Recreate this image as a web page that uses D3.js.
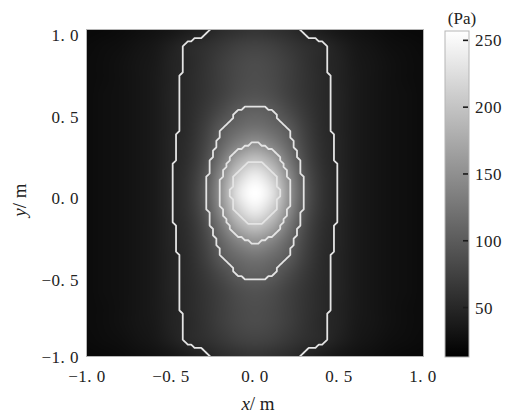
<!DOCTYPE html>
<html>
<head>
<meta charset="utf-8">
<script src="https://cdn.jsdelivr.net/npm/d3@7"></script>
<style>
  html, body { margin: 0; padding: 0; background: #fff; }
  svg { display: block; }
  text { font-family: 'Liberation Serif', 'Times New Roman', serif; fill: #222; }
</style>
</head>
<body>
<svg id="chart" width="518" height="416"></svg>
<script>
// Sample grid positions (m)
const gridX = [-1.0,-0.9,-0.8,-0.7,-0.6,-0.5,-0.4,-0.3,-0.2,-0.1,0.0,0.1,0.2,0.3,0.4,0.5,0.6,0.7,0.8,0.9,1.0];
const gridY = [1.0,0.9,0.8,0.7,0.6,0.5,0.4,0.3,0.2,0.1,0.0,-0.1,-0.2,-0.3,-0.4,-0.5,-0.6,-0.7,-0.8,-0.9,-1.0];

// Sound pressure (Pa), one row per gridY value, one column per gridX value
const pressure = [
  [21,22,24,27,30,34,40,47,55,60,63,60,55,47,40,34,30,27,24,22,21],
  [23,25,27,31,35,43,52,58,66,74,77,74,66,58,52,43,35,31,27,25,23],
  [24,26,29,33,37,46,52,61,72,81,85,81,72,61,52,46,37,33,29,26,24],
  [24,26,29,33,38,46,53,62,73,83,87,83,73,62,53,46,38,33,29,26,24],
  [24,27,29,33,38,47,53,63,75,87,92,87,75,63,53,47,38,33,29,27,24],
  [24,27,29,33,38,47,54,67,84,100,106,100,84,67,54,47,38,33,29,27,24],
  [24,27,29,33,38,47,55,73,98,114,122,114,98,73,55,47,38,33,29,27,24],
  [24,27,29,33,38,48,57,78,110,138,153,138,110,78,57,48,38,33,29,27,24],
  [24,27,29,33,38,48,59,84,128,176,199,176,128,84,59,48,38,33,29,27,24],
  [24,27,29,33,38,49,62,92,148,211,240,211,148,92,62,49,38,33,29,27,24],
  [24,27,29,33,38,49,63,96,156,230,257,230,156,96,63,49,38,33,29,27,24],
  [24,27,29,33,38,49,62,92,148,211,240,211,148,92,62,49,38,33,29,27,24],
  [24,27,29,33,38,48,59,84,128,176,199,176,128,84,59,48,38,33,29,27,24],
  [24,27,29,33,38,48,57,78,110,138,153,138,110,78,57,48,38,33,29,27,24],
  [24,27,29,33,38,47,55,73,98,114,122,114,98,73,55,47,38,33,29,27,24],
  [24,27,29,33,38,47,54,67,84,100,106,100,84,67,54,47,38,33,29,27,24],
  [24,27,29,33,38,47,53,63,75,87,92,87,75,63,53,47,38,33,29,27,24],
  [24,26,29,33,38,46,53,62,73,83,87,83,73,62,53,46,38,33,29,26,24],
  [24,26,29,33,37,46,52,61,72,81,85,81,72,61,52,46,37,33,29,26,24],
  [23,25,27,31,35,43,52,58,66,74,77,74,66,58,52,43,35,31,27,25,23],
  [21,22,24,27,30,34,40,47,55,60,63,60,55,47,40,34,30,27,24,22,21]
];

// Contour levels (Pa)
const contourLevels = [50, 100, 150, 200];

// Axis ticks and their labels
const xTicks = [-1.0, -0.5, 0.0, 0.5, 1.0];
const xTickLabels = ["\u22121. 0", "\u22120. 5", "0. 0", "0. 5", "1. 0"];
const yTicks = [1.0, 0.5, 0.0, -0.5, -1.0];
const yTickLabels = ["1. 0", "0. 5", "0. 0", "\u22120. 5", "\u22121. 0"];

// Colour bar range and ticks (Pa)
const colorMin = 13, colorMax = 257;
const cbTicks = [50, 100, 150, 200, 250];
const cbTickLabels = ["50", "100", "150", "200", "250"];

// ---- layout ----
const plot = { x0: 87, x1: 423, y0: 30, y1: 356 };
const cb = { x0: 445, x1: 469, y0: 31, y1: 357 };

const svg = d3.select("#chart");
const x = d3.scaleLinear().domain([-1, 1]).range([plot.x0, plot.x1]);
const y = d3.scaleLinear().domain([-1, 1]).range([plot.y1, plot.y0]);
const gray = d3.scaleLinear().domain([colorMin, colorMax]).range(["#000000", "#ffffff"]).clamp(true);

// Catmull-Rom sampling of the pressure grid (fractional grid indices)
const nx = gridX.length, ny = gridY.length;
const dx = (gridX[nx - 1] - gridX[0]) / (nx - 1);
const dy = (gridY[0] - gridY[ny - 1]) / (ny - 1);
function cell(i, j) {
  i = Math.max(0, Math.min(nx - 1, i));
  j = Math.max(0, Math.min(ny - 1, j));
  return pressure[j][i];
}
function cubic(p0, p1, p2, p3, t) {
  return p1 + 0.5 * t * (p2 - p0 + t * (2 * p0 - 5 * p1 + 4 * p2 - p3 + t * (3 * (p1 - p2) + p3 - p0)));
}
function sample(fi, fj) {
  const i = Math.floor(fi), j = Math.floor(fj);
  const ti = fi - i, tj = fj - j;
  const r = [];
  for (let m = -1; m <= 2; m++) {
    r.push(cubic(cell(i - 1, j + m), cell(i, j + m), cell(i + 1, j + m), cell(i + 2, j + m), ti));
  }
  return cubic(r[0], r[1], r[2], r[3], tj);
}
const idxX = xv => Math.max(0, Math.min(nx - 1, (xv - gridX[0]) / dx));
const idxY = yv => Math.max(0, Math.min(ny - 1, (gridY[0] - yv) / dy));

// ---- heat map image ----
const W = plot.x1 - plot.x0, H = plot.y1 - plot.y0;
const canvas = document.createElement("canvas");
canvas.width = W; canvas.height = H;
const ctx = canvas.getContext("2d");
const img = ctx.createImageData(W, H);
for (let py = 0; py < H; py++) {
  const yv = y.invert(plot.y0 + py + 0.5);
  for (let px = 0; px < W; px++) {
    const xv = x.invert(plot.x0 + px + 0.5);
    const c = d3.rgb(gray(sample(idxX(xv), idxY(yv))));
    const k = (py * W + px) * 4;
    img.data[k] = c.r; img.data[k + 1] = c.g; img.data[k + 2] = c.b; img.data[k + 3] = 255;
  }
}
ctx.putImageData(img, 0, 0);

svg.append("defs").append("clipPath").attr("id", "plotClip")
  .append("rect").attr("x", plot.x0).attr("y", plot.y0).attr("width", W).attr("height", H);

svg.append("image")
  .attr("x", plot.x0).attr("y", plot.y0).attr("width", W).attr("height", H)
  .attr("preserveAspectRatio", "none")
  .attr("href", canvas.toDataURL());

// ---- contour lines on a fine resampled grid ----
const N = 101;
const step = 2 / (N - 1);
const fine = new Array(N * N);
for (let j = 0; j < N; j++) {
  for (let i = 0; i < N; i++) {
    fine[j * N + i] = sample(idxX(-1 + i * step), idxY(1 - j * step));
  }
}
const contours = d3.contours().size([N, N]).smooth(false).thresholds(contourLevels)(fine);
const toScreen = d3.geoTransform({
  point(u, v) {
    this.stream.point(x(-1 + (u - 0.5) * step), y(1 - (v - 0.5) * step));
  }
});
svg.append("g").attr("clip-path", "url(#plotClip)")
  .selectAll("path").data(contours).join("path")
  .attr("d", d3.geoPath(toScreen))
  .attr("fill", "none")
  .attr("stroke", "#e4e4e4")
  .attr("stroke-width", 1.8)
  .attr("stroke-linejoin", "round");

// plot frame
svg.append("rect")
  .attr("x", plot.x0 - 0.5).attr("y", plot.y0 - 0.5).attr("width", W + 1).attr("height", H + 1)
  .attr("fill", "none").attr("stroke", "#b5b5b5").attr("stroke-width", 1);

// ---- axes (labels only) ----
svg.append("g").selectAll("text").data(xTicks).join("text")
  .attr("x", d => x(d)).attr("y", plot.y1 + 26)
  .attr("text-anchor", "middle").attr("font-size", 17).attr("letter-spacing", 0.5)
  .text((d, i) => xTickLabels[i]);

svg.append("g").selectAll("text").data(yTicks).join("text")
  .attr("x", plot.x0 - 8)
  .attr("y", d => Math.min(Math.max(y(d) + 11, plot.y0 + 7), plot.y1 + 7))
  .attr("text-anchor", "end").attr("font-size", 17).attr("letter-spacing", 0.5)
  .text((d, i) => yTickLabels[i]);

const xl = svg.append("text").attr("x", 258).attr("y", 410).attr("text-anchor", "middle").attr("font-size", 19);
xl.append("tspan").attr("font-style", "italic").text("x");
xl.append("tspan").text("/ m");

const yl = svg.append("text").attr("transform", "translate(26,200) rotate(-90)")
  .attr("text-anchor", "middle").attr("font-size", 19);
yl.append("tspan").attr("font-style", "italic").text("y");
yl.append("tspan").text("/ m");

// ---- colour bar ----
const cbScale = d3.scaleLinear().domain([colorMin, colorMax]).range([cb.y1, cb.y0]);
const grad = svg.select("defs").append("linearGradient").attr("id", "cbGrad")
  .attr("x1", 0).attr("y1", 1).attr("x2", 0).attr("y2", 0);
d3.range(0, 1.0001, 0.1).forEach(t => {
  grad.append("stop").attr("offset", t).attr("stop-color", gray(colorMin + t * (colorMax - colorMin)));
});
svg.append("rect")
  .attr("x", cb.x0).attr("y", cb.y0).attr("width", cb.x1 - cb.x0).attr("height", cb.y1 - cb.y0)
  .attr("fill", "url(#cbGrad)").attr("stroke", "#b5b5b5").attr("stroke-width", 1);

svg.append("g").selectAll("line").data(cbTicks).join("line")
  .attr("x1", cb.x1 - 6).attr("x2", cb.x1 - 1)
  .attr("y1", d => cbScale(d)).attr("y2", d => cbScale(d))
  .attr("stroke", "#1a1a1a").attr("stroke-width", 1.6);

svg.append("g").selectAll("text").data(cbTicks).join("text")
  .attr("x", cb.x1 + 6).attr("y", d => cbScale(d) + 6)
  .attr("font-size", 17).attr("letter-spacing", 0.5)
  .text((d, i) => cbTickLabels[i]);

svg.append("text").attr("x", 462).attr("y", 24).attr("text-anchor", "middle")
  .attr("font-size", 17).text("(Pa)");
</script>
</body>
</html>
